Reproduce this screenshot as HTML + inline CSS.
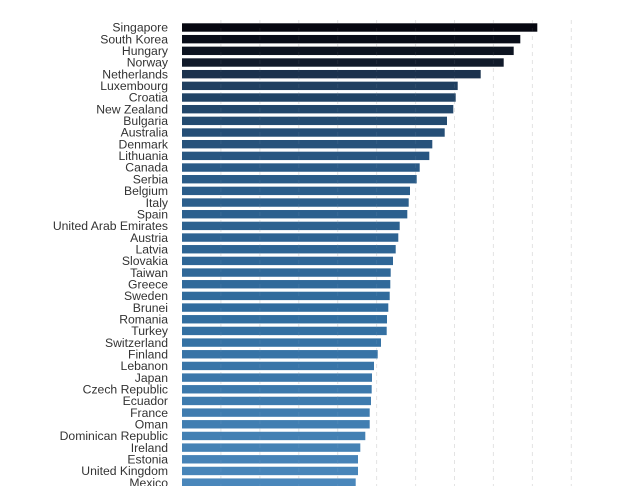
<!DOCTYPE html>
<html><head><meta charset="utf-8"><style>
html,body{margin:0;padding:0;background:#fff;width:640px;height:486px;overflow:hidden}
svg text{font-family:"Liberation Sans",Arial,sans-serif;font-size:12.2px;fill:#333}
</style></head><body>
<svg id="s" width="640" height="486" xmlns="http://www.w3.org/2000/svg"></svg>
<script>
var names=["Singapore","South Korea","Hungary","Norway","Netherlands","Luxembourg","Croatia","New Zealand","Bulgaria","Australia","Denmark","Lithuania","Canada","Serbia","Belgium","Italy","Spain","United Arab Emirates","Austria","Latvia","Slovakia","Taiwan","Greece","Sweden","Brunei","Romania","Turkey","Switzerland","Finland","Lebanon","Japan","Czech Republic","Ecuador","France","Oman","Dominican Republic","Ireland","Estonia","United Kingdom","Mexico"];
var ends=[537.3,520.3,513.7,503.7,480.7,457.7,455.7,453.3,447,444.7,432.3,429.3,419.7,416.7,410,408.7,407.3,399.7,398.3,395.7,393,390.7,390.3,389.7,388.3,387,386.7,381,377.7,374,372,371.7,371,369.7,369.7,365.3,360.3,358,358,355.7];
var stops=[[0,[6,7,16]],[3,[16,26,42]],[4,[27,50,78]],[5,[31,63,96]],[12,[42,90,134]],[25,[50,110,160]],[39,[74,135,187]]];
function col(i){for(var k=0;k<stops.length-1;k++){var a=stops[k],b=stops[k+1];if(i>=a[0]&&i<=b[0]){var t=(i-a[0])/(b[0]-a[0]);return "rgb("+a[1].map(function(v,j){return Math.round(v+(b[1][j]-v)*t)}).join(",")+")";}}}
var h="";
for(var g=1;g<=10;g++){var x=182+g*38.93;h+='<line x1="'+x.toFixed(1)+'" y1="20" x2="'+x.toFixed(1)+'" y2="486" stroke="#e2e2e2" stroke-width="1" stroke-dasharray="4,4"/>';}
for(var i=0;i<40;i++){var y=23.3+i*11.67;
h+='<rect x="182" y="'+y.toFixed(2)+'" width="'+(ends[i]-182).toFixed(1)+'" height="8.4" fill="'+col(i)+'"/>';
h+='<text x="168" y="'+(y+8.4).toFixed(2)+'" text-anchor="end">'+names[i]+'</text>';}
for(var g=1;g<=10;g++){var x=182+g*38.93;h+='<line x1="'+x.toFixed(1)+'" y1="20" x2="'+x.toFixed(1)+'" y2="486" stroke="#ffffff" stroke-width="1" stroke-dasharray="4,4" opacity="0.06"/>';}
document.getElementById("s").innerHTML=h;
</script>
</body></html>
